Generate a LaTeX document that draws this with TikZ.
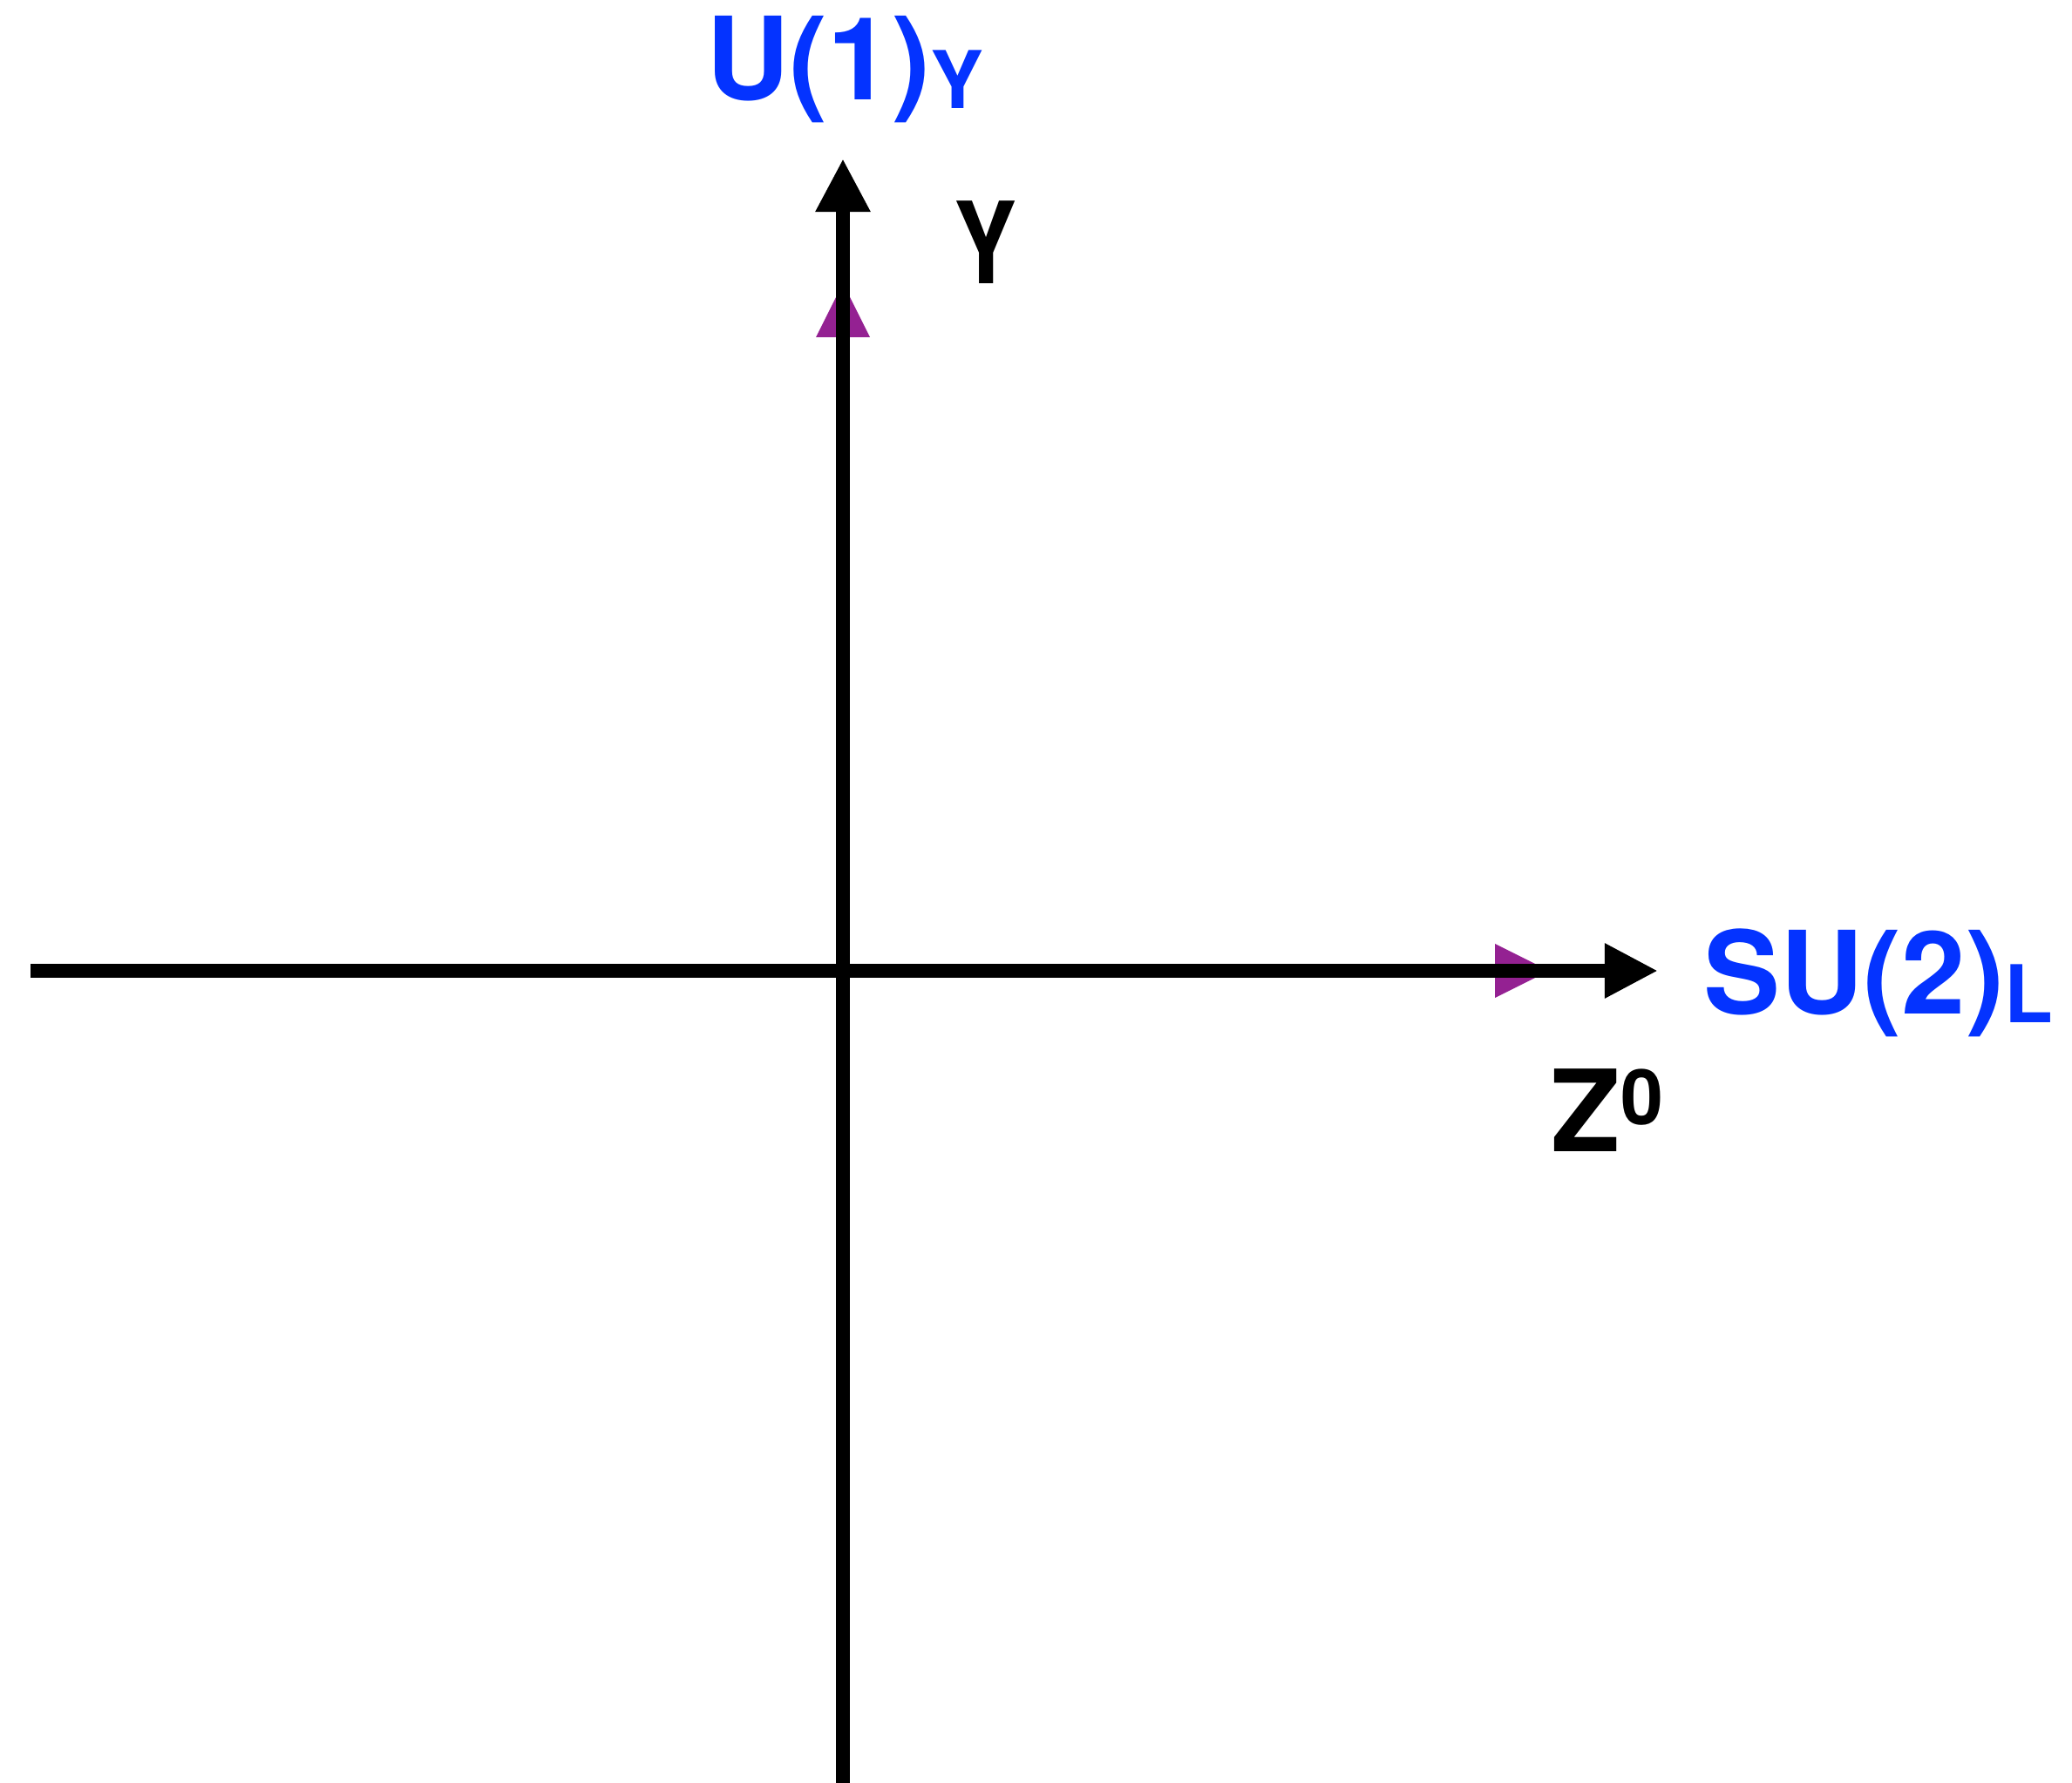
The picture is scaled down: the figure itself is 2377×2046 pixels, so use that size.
\documentclass[tikz,border=0pt]{standalone}
\usepackage{fontspec}
\setmainfont{TeX Gyre Heros}
\usetikzlibrary{arrows.meta}
\definecolor{gblue}{HTML}{0433FF}
\definecolor{plum}{HTML}{942192}
\tikzset{
  axis/.style={line width=4.27pt, -{Triangle[length=17.4pt,width=16.8pt]}},
  marker/.style={fill=plum, draw=none},
  grp/.style={text=gblue, font=\fontsize{37.5}{40}\selectfont\bfseries, inner sep=0pt, anchor=base west},
  lbl/.style={text=black, font=\fontsize{37}{40}\selectfont\bfseries, inner sep=0pt, anchor=base west}
}
\begin{document}
\begin{tikzpicture}[x=0.01cm,y=-0.01cm]
\useasboundingbox (0,0) rectangle (2377,2046);
% purple markers
\fill[marker] (936,387) -- (967,325) -- (998,387) -- cycle;
\fill[marker] (1715,1083) -- (1777,1114) -- (1715,1145) -- cycle;
% axes
\coordinate (xl) at (35,1114);
\coordinate (xr) at (1902,1114);
\coordinate (yb) at (967,2046);
\coordinate (yt) at (967,182);
\draw[axis] (xl) -- (xr);
\draw[axis] (yb) -- (yt);
% labels
\node[grp] (u1) at (810,115) {U(1)\raisebox{-2.6pt}{\fontsize{26}{28}\selectfont Y}};
\node[grp] (su2) at (1954,1164) {SU(2)\raisebox{-2.6pt}{\fontsize{26}{28}\selectfont L}};
\node[lbl] (gam) at (1094,326) {\scalebox{0.83}[1]{Y}};
\node[lbl] (z0) at (1779,1322) {Z\raisebox{9pt}{\fontsize{25}{28}\selectfont 0}};
\end{tikzpicture}
\end{document}
